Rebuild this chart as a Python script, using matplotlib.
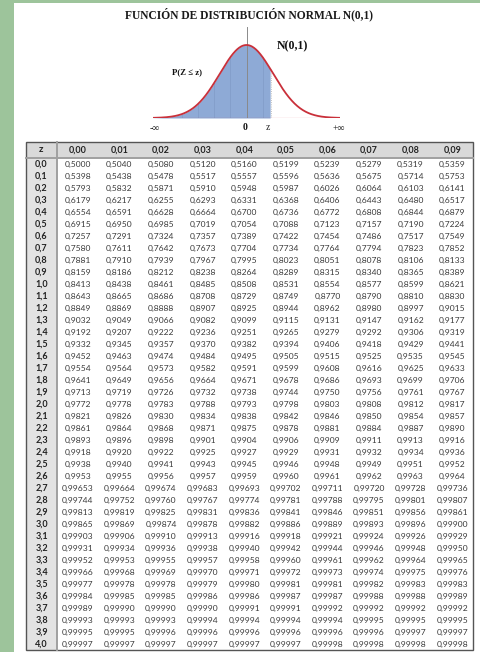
import numpy as np
import matplotlib.pyplot as plt
from matplotlib.patches import Rectangle

# datos de la tabla
col_labels = ["0,00", "0,01", "0,02", "0,03", "0,04", "0,05", "0,06", "0,07", "0,08", "0,09"]
z_rows = ["0,0", "0,1", "0,2", "0,3", "0,4", "0,5", "0,6", "0,7", "0,8", "0,9",
          "1,0", "1,1", "1,2", "1,3", "1,4", "1,5", "1,6", "1,7", "1,8", "1,9",
          "2,0", "2,1", "2,2", "2,3", "2,4", "2,5", "2,6", "2,7", "2,8", "2,9",
          "3,0", "3,1", "3,2", "3,3", "3,4", "3,5", "3,6", "3,7", "3,8", "3,9", "4,0"]

# filas 0,0 - 2,6 (4 decimales)
prob_4 = [
    [0.5000, 0.5040, 0.5080, 0.5120, 0.5160, 0.5199, 0.5239, 0.5279, 0.5319, 0.5359],
    [0.5398, 0.5438, 0.5478, 0.5517, 0.5557, 0.5596, 0.5636, 0.5675, 0.5714, 0.5753],
    [0.5793, 0.5832, 0.5871, 0.5910, 0.5948, 0.5987, 0.6026, 0.6064, 0.6103, 0.6141],
    [0.6179, 0.6217, 0.6255, 0.6293, 0.6331, 0.6368, 0.6406, 0.6443, 0.6480, 0.6517],
    [0.6554, 0.6591, 0.6628, 0.6664, 0.6700, 0.6736, 0.6772, 0.6808, 0.6844, 0.6879],
    [0.6915, 0.6950, 0.6985, 0.7019, 0.7054, 0.7088, 0.7123, 0.7157, 0.7190, 0.7224],
    [0.7257, 0.7291, 0.7324, 0.7357, 0.7389, 0.7422, 0.7454, 0.7486, 0.7517, 0.7549],
    [0.7580, 0.7611, 0.7642, 0.7673, 0.7704, 0.7734, 0.7764, 0.7794, 0.7823, 0.7852],
    [0.7881, 0.7910, 0.7939, 0.7967, 0.7995, 0.8023, 0.8051, 0.8078, 0.8106, 0.8133],
    [0.8159, 0.8186, 0.8212, 0.8238, 0.8264, 0.8289, 0.8315, 0.8340, 0.8365, 0.8389],
    [0.8413, 0.8438, 0.8461, 0.8485, 0.8508, 0.8531, 0.8554, 0.8577, 0.8599, 0.8621],
    [0.8643, 0.8665, 0.8686, 0.8708, 0.8729, 0.8749, 0.8770, 0.8790, 0.8810, 0.8830],
    [0.8849, 0.8869, 0.8888, 0.8907, 0.8925, 0.8944, 0.8962, 0.8980, 0.8997, 0.9015],
    [0.9032, 0.9049, 0.9066, 0.9082, 0.9099, 0.9115, 0.9131, 0.9147, 0.9162, 0.9177],
    [0.9192, 0.9207, 0.9222, 0.9236, 0.9251, 0.9265, 0.9279, 0.9292, 0.9306, 0.9319],
    [0.9332, 0.9345, 0.9357, 0.9370, 0.9382, 0.9394, 0.9406, 0.9418, 0.9429, 0.9441],
    [0.9452, 0.9463, 0.9474, 0.9484, 0.9495, 0.9505, 0.9515, 0.9525, 0.9535, 0.9545],
    [0.9554, 0.9564, 0.9573, 0.9582, 0.9591, 0.9599, 0.9608, 0.9616, 0.9625, 0.9633],
    [0.9641, 0.9649, 0.9656, 0.9664, 0.9671, 0.9678, 0.9686, 0.9693, 0.9699, 0.9706],
    [0.9713, 0.9719, 0.9726, 0.9732, 0.9738, 0.9744, 0.9750, 0.9756, 0.9761, 0.9767],
    [0.9772, 0.9778, 0.9783, 0.9788, 0.9793, 0.9798, 0.9803, 0.9808, 0.9812, 0.9817],
    [0.9821, 0.9826, 0.9830, 0.9834, 0.9838, 0.9842, 0.9846, 0.9850, 0.9854, 0.9857],
    [0.9861, 0.9864, 0.9868, 0.9871, 0.9875, 0.9878, 0.9881, 0.9884, 0.9887, 0.9890],
    [0.9893, 0.9896, 0.9898, 0.9901, 0.9904, 0.9906, 0.9909, 0.9911, 0.9913, 0.9916],
    [0.9918, 0.9920, 0.9922, 0.9925, 0.9927, 0.9929, 0.9931, 0.9932, 0.9934, 0.9936],
    [0.9938, 0.9940, 0.9941, 0.9943, 0.9945, 0.9946, 0.9948, 0.9949, 0.9951, 0.9952],
    [0.9953, 0.9955, 0.9956, 0.9957, 0.9959, 0.9960, 0.9961, 0.9962, 0.9963, 0.9964],
]

# filas 2,7 - 4,0 (5 decimales)
prob_5 = [
    [0.99653, 0.99664, 0.99674, 0.99683, 0.99693, 0.99702, 0.99711, 0.99720, 0.99728, 0.99736],
    [0.99744, 0.99752, 0.99760, 0.99767, 0.99774, 0.99781, 0.99788, 0.99795, 0.99801, 0.99807],
    [0.99813, 0.99819, 0.99825, 0.99831, 0.99836, 0.99841, 0.99846, 0.99851, 0.99856, 0.99861],
    [0.99865, 0.99869, 0.99874, 0.99878, 0.99882, 0.99886, 0.99889, 0.99893, 0.99896, 0.99900],
    [0.99903, 0.99906, 0.99910, 0.99913, 0.99916, 0.99918, 0.99921, 0.99924, 0.99926, 0.99929],
    [0.99931, 0.99934, 0.99936, 0.99938, 0.99940, 0.99942, 0.99944, 0.99946, 0.99948, 0.99950],
    [0.99952, 0.99953, 0.99955, 0.99957, 0.99958, 0.99960, 0.99961, 0.99962, 0.99964, 0.99965],
    [0.99966, 0.99968, 0.99969, 0.99970, 0.99971, 0.99972, 0.99973, 0.99974, 0.99975, 0.99976],
    [0.99977, 0.99978, 0.99978, 0.99979, 0.99980, 0.99981, 0.99981, 0.99982, 0.99983, 0.99983],
    [0.99984, 0.99985, 0.99985, 0.99986, 0.99986, 0.99987, 0.99987, 0.99988, 0.99988, 0.99989],
    [0.99989, 0.99990, 0.99990, 0.99990, 0.99991, 0.99991, 0.99992, 0.99992, 0.99992, 0.99992],
    [0.99993, 0.99993, 0.99993, 0.99994, 0.99994, 0.99994, 0.99994, 0.99995, 0.99995, 0.99995],
    [0.99995, 0.99995, 0.99996, 0.99996, 0.99996, 0.99996, 0.99996, 0.99996, 0.99997, 0.99997],
    [0.99997, 0.99997, 0.99997, 0.99997, 0.99997, 0.99997, 0.99998, 0.99998, 0.99998, 0.99998],
]

z_cut = 0.9  # valor de z en el dibujo

W, H = 481, 652
fig = plt.figure(figsize=(W / 100, H / 100), dpi=100, facecolor='white')

# ejes en pixeles para fondo y tabla
ax = fig.add_axes([0, 0, 1, 1])
ax.set_xlim(0, W)
ax.set_ylim(H, 0)
ax.axis('off')

green = '#9dc49b'
ax.add_patch(Rectangle((0, 0), 14, H, color=green, lw=0))
ax.add_patch(Rectangle((0, 0), W, 3, color=green, lw=0))

ax.text(249, 14, "FUNCIÓN DE DISTRIBUCIÓN NORMAL N(0,1)", ha='center', va='center',
        fontsize=8.3, fontweight='bold', family='Liberation Serif', color='#1a1a1a')

# tabla
left, right = 26, 473
top, head_h, row_h = 142, 16, 12
zcol_w = 31
col_w = (right - left - zcol_w) / 10
bottom = top + head_h + row_h * len(z_rows)

ax.add_patch(Rectangle((left, top), right - left, head_h, color='#d9d9d9', lw=0))
ax.add_patch(Rectangle((left, top + head_h), zcol_w, bottom - top - head_h, color='#e3e3e3', lw=0))
ax.add_patch(Rectangle((left, top), right - left, bottom - top, fill=False, ec='#555555', lw=1.0))
ax.plot([left, right], [top + head_h, top + head_h], color='#a0a0a0', lw=1.4)
ax.plot([left + zcol_w, left + zcol_w], [top, bottom], color='#a0a0a0', lw=1.4)

fnt = 'Lato'
ax.text(left + zcol_w / 2, top + head_h / 2, "z", ha='center', va='center',
        fontsize=7, fontweight='bold', family=fnt, color='#222222')
for j, lab in enumerate(col_labels):
    ax.text(left + zcol_w + col_w * (j + 0.5), top + head_h / 2, lab, ha='center', va='center',
            fontsize=6.5, fontweight='bold', family=fnt, color='#222222')

rows = prob_4 + prob_5
for i, zl in enumerate(z_rows):
    yc = top + head_h + row_h * (i + 0.5)
    ax.text(left + zcol_w / 2, yc, zl, ha='center', va='center',
            fontsize=6.5, fontweight='bold', family=fnt, color='#222222')
    nd = 4 if i < len(prob_4) else 5
    for j, v in enumerate(rows[i]):
        s = f"{v:.{nd}f}".replace('.', ',')
        ax.text(left + zcol_w + col_w * (j + 0.5), yc, s, ha='center', va='center',
                fontsize=6.1, family=fnt, color='#3a3a3a')

# curva normal
x0, x1 = 153, 340
base, peak, axtop = 118, 45, 27
pk = 1 / np.sqrt(2 * np.pi)
ylim_top = pk * (base - axtop) / (base - peak)
cax = fig.add_axes([x0 / W, 1 - base / H, (x1 - x0) / W, (base - axtop) / H])
cax.set_xlim(-3.5, 3.5)
cax.set_ylim(0, ylim_top)
cax.axis('off')
cax.patch.set_alpha(0)

xs = np.linspace(-3.5, 3.5, 400)
ys = pk * np.exp(-xs ** 2 / 2)
m = xs <= z_cut
cax.fill_between(xs[m], 0, ys[m], color='#8eaad6', lw=0)
for xv in np.arange(-2.4, z_cut, 0.6):
    cax.plot([xv, xv], [0, pk * np.exp(-xv ** 2 / 2)], color='#7d97c4', lw=0.4)
cax.plot([z_cut, z_cut], [0, pk * np.exp(-z_cut ** 2 / 2)], color='#b0b0b0', lw=0.6, ls=':')
cax.plot([0, 0], [0, ylim_top], color='#8a8a8a', lw=0.7)
cax.plot(xs, ys, color='#c9303a', lw=1.3)
cax.plot([-3.5, 3.5], [0, 0], color='#c9303a', lw=0.8)

serif = 'Liberation Serif'
ax.text(277, 46, "N(0,1)", ha='left', va='center', fontsize=8.5, fontweight='bold',
        family=serif, color='#111111')
ax.text(172, 72, "P(Z ≤ z)", ha='left', va='center', fontsize=6.3, fontweight='bold',
        family=['Liberation Serif', 'DejaVu Sans'], color='#111111')
ax.text(155, 128, "-∞", ha='center', va='center', fontsize=7, family=['Liberation Serif', 'DejaVu Sans'], color='#222222')
ax.text(245, 128, "0", ha='center', va='center', fontsize=7, fontweight='bold', family=serif, color='#111111')
ax.text(268, 128, "z", ha='center', va='center', fontsize=7, family=serif, color='#222222')
ax.text(339, 128, "+∞", ha='center', va='center', fontsize=7, family=['Liberation Serif', 'DejaVu Sans'], color='#222222')

fig.savefig('out.png', dpi=100, facecolor='white')
